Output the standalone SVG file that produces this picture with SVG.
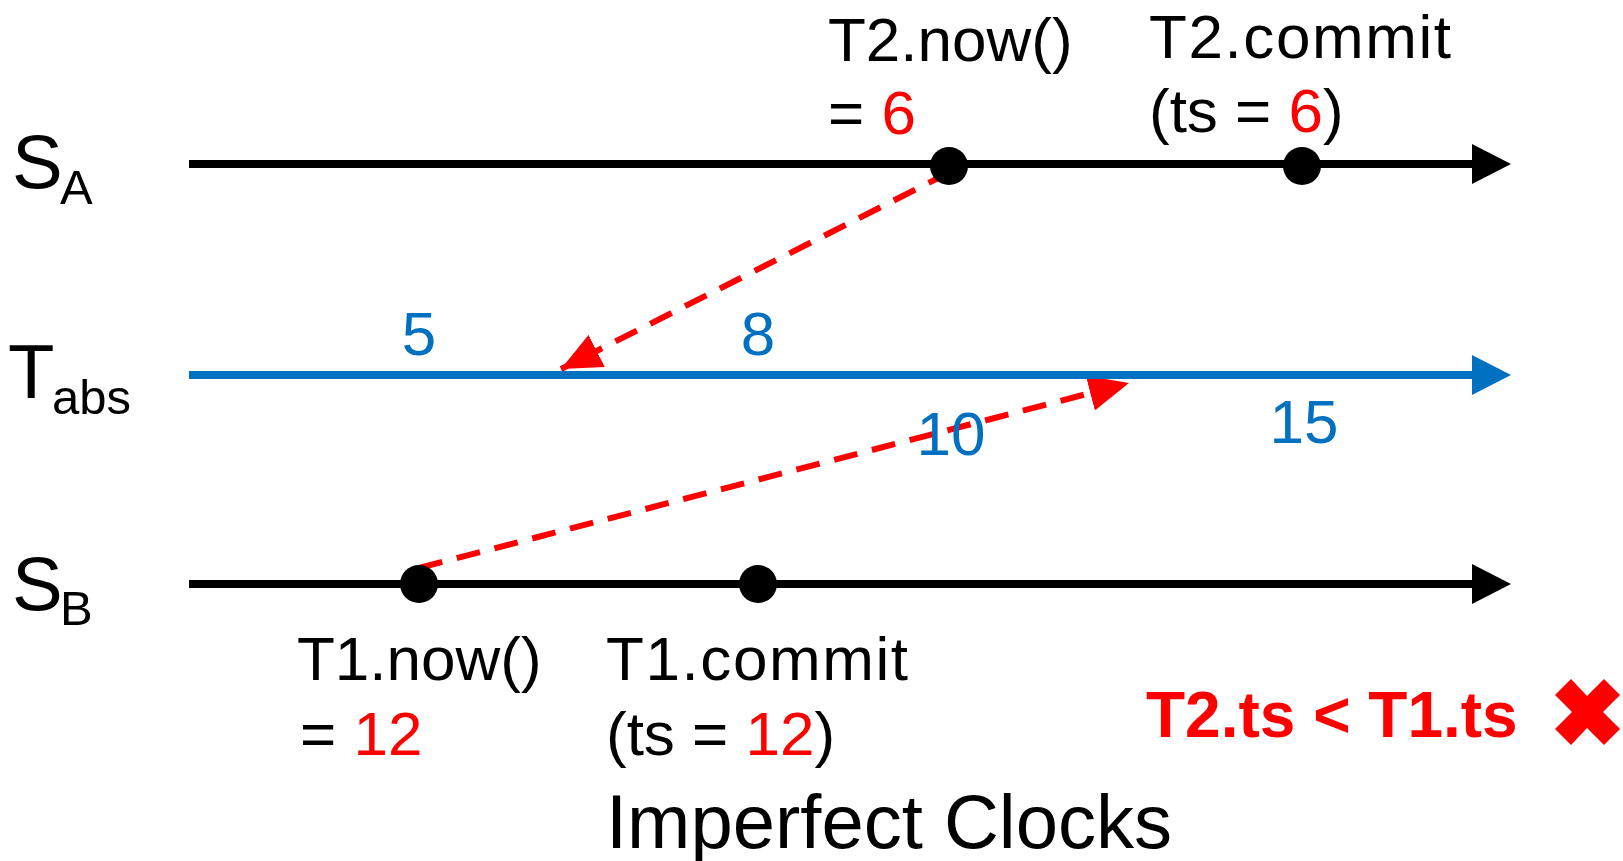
<svg xmlns="http://www.w3.org/2000/svg" width="1623" height="861" viewBox="0 0 1623 861">
<style>
text{font-family:"Liberation Sans",Arial,sans-serif;}
.lbl{font-size:62px;fill:#000;}
.red{fill:#FF0000;}
.blue{font-size:62px;fill:#0070C0;}
.axis{font-size:76px;fill:#000;}
.sub{font-size:49px;fill:#000;}
.dash{stroke:#FF0000;stroke-width:6;stroke-dasharray:24 15;fill:none;}
</style>
<defs>
<marker id="ra" markerUnits="userSpaceOnUse" markerWidth="40" markerHeight="36" refX="40" refY="18" orient="auto">
<path d="M0,0 L40,18 L0,36 z" fill="#FF0000"/>
</marker>
</defs>
<g id="connectors">
<line class="dash" x1="950" y1="172" x2="561" y2="369" marker-end="url(#ra)"/>
<line class="dash" x1="419" y1="568" x2="1129" y2="383" marker-end="url(#ra)"/>
</g>
<g id="timeline-SA">
<line x1="189" y1="164" x2="1475" y2="164" stroke="#000" stroke-width="8"/>
<path d="M1472,144 L1511,164 L1472,184 z" fill="#000"/>
<text class="axis" x="12" y="188">S</text><text class="sub" x="60" y="204">A</text>
</g>
<g id="timeline-Tabs">
<line x1="189" y1="375" x2="1475" y2="375" stroke="#0070C0" stroke-width="8"/>
<path d="M1472,355 L1511,375 L1472,395 z" fill="#0070C0"/>
<text class="axis" x="8" y="398">T</text><text class="sub" x="52" y="414">abs</text>
</g>
<g id="timeline-SB">
<line x1="189" y1="584" x2="1475" y2="584" stroke="#000" stroke-width="8"/>
<path d="M1472,564 L1511,584 L1472,604 z" fill="#000"/>
<text class="axis" x="12" y="610">S</text><text class="sub" x="60" y="625">B</text>
</g>
<g id="ticks">
<text class="blue" x="419" y="355" text-anchor="middle">5</text>
<text class="blue" x="758" y="355" text-anchor="middle">8</text>
<text class="blue" x="951" y="455" text-anchor="middle">10</text>
<text class="blue" x="1304" y="443" text-anchor="middle">15</text>
</g>
<g id="T2-now">
<circle cx="949" cy="166" r="19" fill="#000"/>
<text class="lbl" x="828" y="61">T2.now()</text>
<text class="lbl" x="828" y="134">= <tspan class="red">6</tspan></text>
</g>
<g id="T2-commit">
<circle cx="1302" cy="166" r="19" fill="#000"/>
<text class="lbl" x="1149" y="58" textLength="302">T2.commit</text>
<text class="lbl" x="1149" y="132">(ts = <tspan class="red">6</tspan>)</text>
</g>
<g id="T1-now">
<circle cx="419" cy="584" r="19" fill="#000"/>
<text class="lbl" x="297" y="680">T1.now()</text>
<text class="lbl" x="300" y="755">= <tspan class="red">12</tspan></text>
</g>
<g id="T1-commit">
<circle cx="758" cy="584" r="19" fill="#000"/>
<text class="lbl" x="606" y="680" textLength="302">T1.commit</text>
<text class="lbl" x="606" y="755">(ts = <tspan class="red">12</tspan>)</text>
</g>
<g id="result">
<text x="1146" y="737" font-size="64" font-weight="bold" fill="#FF0000">T2.ts &lt; T1.ts</text>
<polygon fill="#FF0000" points="1555,695 1571,679 1587,696 1604,679 1620,695 1603,712 1620,729 1604,745 1587,728 1571,745 1555,729 1572,712"/>
</g>
<text id="title" x="606" y="848" font-size="76" fill="#000">Imperfect Clocks</text>
</svg>
